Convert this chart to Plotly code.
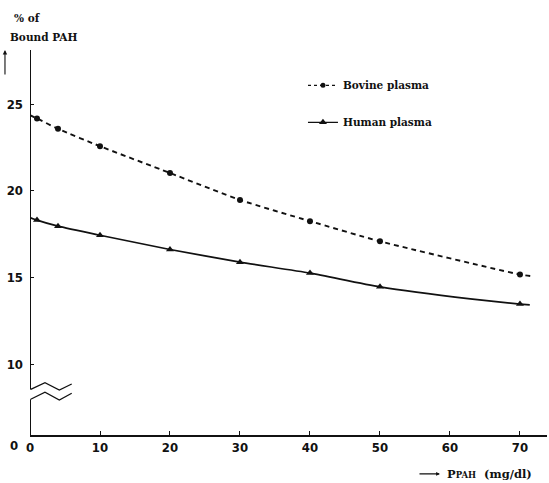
import plotly.graph_objects as go

# ---- data ----
conc = [1, 4, 10, 20, 30, 40, 50, 70]            # PPAH (mg/dl)
bovine = [24.17, 23.57, 22.57, 21.03, 19.48, 18.26, 17.10, 15.19]
human = [18.32, 17.97, 17.45, 16.63, 15.90, 15.27, 14.48, 13.49]

# hand-drawn curves extend from the axis to just past the last point
bovine_curve_x = [0, 1, 4, 10, 20, 30, 40, 50, 70, 71.7]
bovine_curve_y = [24.36, 24.17, 23.57, 22.57, 21.03, 19.48, 18.26, 17.10, 15.19, 15.09]
human_curve_x = [0, 1, 4, 10, 20, 30, 40, 50, 62.9, 70, 71.4]
human_curve_y = [18.47, 18.32, 17.97, 17.45, 16.63, 15.90, 15.27, 14.48, 13.79, 13.49, 13.44]

x_ticks = [0, 10, 20, 30, 40, 50, 60, 70]
y_ticks = [10, 15, 20, 25]

INK = "#111111"
NUM_FONT = "Liberation Sans Narrow, DejaVu Sans Condensed, Arial Narrow, sans-serif"
SERIF = "DejaVu Serif, Liberation Serif, serif"

Y_BOTTOM, Y_TOP = 5.955, 28.107
X_MAX = 73.86

fig = go.Figure()

# curves
fig.add_trace(go.Scatter(x=bovine_curve_x, y=bovine_curve_y, mode="lines",
                         line=dict(color=INK, width=1.9, dash="5px,4px", shape="spline", smoothing=0.6),
                         showlegend=False, hoverinfo="skip"))
fig.add_trace(go.Scatter(x=human_curve_x, y=human_curve_y, mode="lines",
                         line=dict(color=INK, width=1.7, shape="spline", smoothing=0.6),
                         showlegend=False, hoverinfo="skip"))
# markers
fig.add_trace(go.Scatter(x=conc, y=bovine, mode="markers",
                         marker=dict(symbol="circle", size=6, color=INK),
                         showlegend=False))
fig.add_trace(go.Scatter(x=conc, y=human, mode="markers",
                         marker=dict(symbol="triangle-up", size=7, color=INK),
                         showlegend=False))
# legend entries
fig.add_trace(go.Scatter(x=[None], y=[None], mode="lines+markers", name="Bovine plasma",
                         legendgroup="b",
                         line=dict(color=INK, width=1.2, dash="3px,3px"),
                         marker=dict(symbol="circle", size=5, color=INK)))
fig.add_trace(go.Scatter(x=[None], y=[None], mode="lines+markers", name="Human plasma",
                         legendgroup="h",
                         line=dict(color=INK, width=1.2),
                         marker=dict(symbol="triangle-up", size=7, color=INK)))

shapes = [
    # broken y axis
    dict(type="line", xref="x", yref="y", x0=0, x1=0, y0=8.58, y1=Y_TOP,
         line=dict(color=INK, width=2)),
    dict(type="line", xref="x", yref="y", x0=0, x1=0, y0=Y_BOTTOM, y1=8.01,
         line=dict(color=INK, width=2)),
    dict(type="path", xref="x", yref="y",
         path="M 0.1,8.58 L 2.14,8.96 L 4.19,8.54 L 5.96,8.89",
         line=dict(color=INK, width=1.3)),
    dict(type="path", xref="x", yref="y",
         path="M 0.1,8.01 L 2.14,8.42 L 4.19,7.97 L 5.96,8.36",
         line=dict(color=INK, width=1.3)),
]

annotations = [
    dict(text="<b>% of</b>", xref="paper", yref="paper", x=-0.035, y=1.083,
         xanchor="left", yanchor="middle", showarrow=False,
         font=dict(family=SERIF, size=10.5, color=INK)),
    dict(text="<b>Bound PAH</b>", xref="paper", yref="paper", x=-0.0426, y=1.034,
         xanchor="left", yanchor="middle", showarrow=False,
         font=dict(family=SERIF, size=10.5, color=INK)),
    # up arrow
    dict(text="", xref="paper", yref="paper", x=-0.0484, y=1.0, ax=0, ay=26,
         showarrow=True, arrowhead=2, arrowsize=0.8, arrowwidth=1.1, arrowcolor=INK),
    # "0" on the y axis
    dict(text="<b>0</b>", xref="paper", yref="paper", x=0, y=0, xanchor="right",
         yanchor="middle", xshift=-10, yshift=-10, showarrow=False,
         font=dict(family=NUM_FONT, size=13, color=INK)),
    # x axis title arrow
    dict(text="", xref="paper", yref="paper", x=0.793, y=-0.101, ax=-22, ay=0,
         showarrow=True, arrowhead=2, arrowsize=0.7, arrowwidth=1.1, arrowcolor=INK),
    dict(text="<b>P<span style='font-size:8.5px'>PAH</span>  (mg/dl)</b>",
         xref="paper", yref="paper", x=0.803, y=-0.101, xanchor="left", yanchor="middle",
         showarrow=False, font=dict(family=SERIF, size=11.5, color=INK)),
]

fig.update_layout(
    width=549, height=483,
    margin=dict(l=30, r=2, t=50, b=48, autoexpand=False),
    paper_bgcolor="white", plot_bgcolor="white",
    shapes=shapes, annotations=annotations,
    legend=dict(x=0.528, y=0.946, xanchor="left", yanchor="top",
                bgcolor="rgba(0,0,0,0)", tracegroupgap=18, traceorder="grouped",
                font=dict(family=SERIF, size=10.5, color=INK, weight="bold")),
    xaxis=dict(range=[0, X_MAX], tickvals=x_ticks, ticktext=[str(v) for v in x_ticks],
               ticks="inside", ticklen=4, tickwidth=1, tickcolor=INK,
               showline=True, linecolor=INK, linewidth=1.5, automargin=False,
               showgrid=False, zeroline=False,
               tickfont=dict(family=NUM_FONT, size=13, color=INK, weight="bold")),
    yaxis=dict(range=[Y_BOTTOM, Y_TOP], tickvals=y_ticks, ticktext=[str(v) for v in y_ticks],
               ticks="inside", ticklen=4, tickwidth=1, tickcolor=INK, automargin=False,
               showline=False, showgrid=False, zeroline=False, ticklabelstandoff=6,
               tickfont=dict(family=NUM_FONT, size=13, color=INK, weight="bold")),
)

fig.write_html("out.html", config={"displayModeBar": False},
               post_script="document.body.style.margin='0';document.body.style.overflow='hidden';")
